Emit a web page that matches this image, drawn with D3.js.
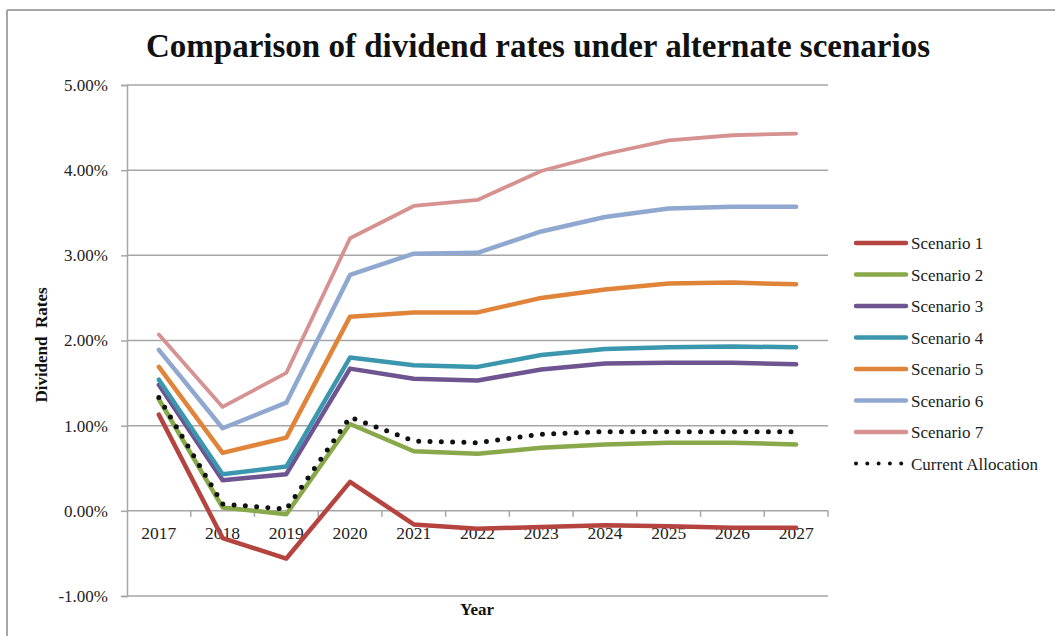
<!DOCTYPE html>
<html>
<head>
<meta charset="utf-8">
<script src="https://cdn.jsdelivr.net/npm/d3@7"></script>
<style>
  body { margin: 0; background: #fff; }
  text { font-family: "Liberation Serif", "Times New Roman", serif; }
</style>
</head>
<body>
<div id="chart"></div>
<script>
const years = ["2017", "2018", "2019", "2020", "2021", "2022", "2023", "2024", "2025", "2026", "2027"];
const yTicks = [-0.01, 0, 0.01, 0.02, 0.03, 0.04, 0.05];

const scenario1 = [1.13, -0.32, -0.56, 0.34, -0.16, -0.21, -0.19, -0.17, -0.18, -0.20, -0.20];
const scenario2 = [1.31, 0.04, -0.04, 1.02, 0.70, 0.67, 0.74, 0.78, 0.80, 0.80, 0.78];
const scenario3 = [1.48, 0.36, 0.43, 1.67, 1.55, 1.53, 1.66, 1.73, 1.74, 1.74, 1.72];
const scenario4 = [1.54, 0.43, 0.52, 1.80, 1.71, 1.69, 1.83, 1.90, 1.92, 1.93, 1.92];
const scenario5 = [1.69, 0.68, 0.86, 2.28, 2.33, 2.33, 2.50, 2.60, 2.67, 2.68, 2.66];
const scenario6 = [1.89, 0.97, 1.27, 2.77, 3.02, 3.03, 3.28, 3.45, 3.55, 3.57, 3.57];
const scenario7 = [2.07, 1.22, 1.62, 3.20, 3.58, 3.65, 3.99, 4.19, 4.35, 4.41, 4.43];
const currentAllocation = [1.33, 0.08, 0.02, 1.10, 0.82, 0.80, 0.90, 0.93, 0.93, 0.93, 0.93];

const seriesNames = ["Scenario 1", "Scenario 2", "Scenario 3", "Scenario 4", "Scenario 5", "Scenario 6", "Scenario 7", "Current Allocation"];
const seriesValues = [scenario1, scenario2, scenario3, scenario4, scenario5, scenario6, scenario7, currentAllocation];
const seriesColors = ["#b5433f", "#89a84a", "#6e5490", "#3b97ad", "#e0843a", "#90a8cf", "#d59291", "#111111"];

const width = 1055, height = 636;
const plot = { left: 127, right: 828, top: 85, bottom: 596 };

const series = seriesNames.map((name, i) => ({
    name: name,
    color: seriesColors[i],
    dotted: name === "Current Allocation",
    values: seriesValues[i].map((v, j) => ({ year: years[j], value: v / 100 }))
}));

// Excel style percent, plain hyphen for negatives
const pct = (d) => d3.format(".2%")(d).replace("\u2212", "-");

const svg = d3.select("#chart")
    .append("svg")
    .attr("width", width)
    .attr("height", height)

// outer frame (only top and left visible)
svg.append("line")
    .attr("x1", 7).attr("x2", width).attr("y1", 10).attr("y2", 10)
    .style("stroke", "#a6a6a6").style("stroke-width", 2)
svg.append("line")
    .attr("x1", 7).attr("x2", 7).attr("y1", 10).attr("y2", height)
    .style("stroke", "#a6a6a6").style("stroke-width", 2)

const x = d3.scaleBand()
    .domain(years)
    .range([plot.left, plot.right])

const y = d3.scaleLinear()
    .domain([-0.01, 0.05])
    .range([plot.bottom, plot.top])

//gridlines
svg.append("g")
    .selectAll("line")
    .data(yTicks)
    .enter().append("line")
    .attr("x1", plot.left)
    .attr("x2", plot.right)
    .attr("y1", d => y(d))
    .attr("y2", d => y(d))
    .style("stroke", "#a6a6a6")
    .style("stroke-width", 1.5)

//y axis
const yAxis = svg.append("g")
    .attr("transform", `translate(${plot.left},0)`)
    .call(d3.axisLeft(y).tickValues(yTicks).tickFormat(pct).tickSize(6).tickPadding(13))
yAxis.select(".domain").style("stroke", "#a6a6a6").style("stroke-width", 1.5)
yAxis.selectAll(".tick line").style("stroke", "#a6a6a6").style("stroke-width", 1.5)
yAxis.selectAll("text")
    .style("font-family", "Liberation Serif")
    .style("font-size", "17px")
    .style("fill", "#222")

//x axis at zero
const xAxis = svg.append("g")
    .attr("transform", `translate(0,${y(0)})`)
    .call(d3.axisBottom(x).tickSize(0).tickPadding(16))
xAxis.select(".domain").remove()
xAxis.selectAll("text")
    .style("font-family", "Liberation Serif")
    .style("font-size", "17.5px")
    .style("fill", "#222")

// category boundary ticks
svg.append("g")
    .selectAll("line")
    .data(years.slice(1).concat(["end"]))
    .enter().append("line")
    .attr("x1", (d, i) => x(years[0]) + x.step() * (i + 1))
    .attr("x2", (d, i) => x(years[0]) + x.step() * (i + 1))
    .attr("y1", y(0))
    .attr("y2", y(0) + 6)
    .style("stroke", "#a6a6a6")
    .style("stroke-width", 1.5)

//lines
const line = d3.line()
    .x(d => x(d.year) + x.bandwidth() / 2)
    .y(d => y(d.value))

svg.append("g")
    .selectAll("path")
    .data(series)
    .enter().append("path")
    .attr("d", d => line(d.values))
    .style("fill", "none")
    .style("stroke", d => d.color)
    .style("stroke-width", d => d.dotted ? 5 : (d.name === "Scenario 7" ? 3.8 : 4.5))
    .style("stroke-dasharray", d => d.dotted ? "0 11.3" : null)
    .style("stroke-linecap", "round")
    .style("stroke-linejoin", "round")

//legend
const legend = svg.append("g")
    .attr("transform", "translate(856,243)")

const legendItem = legend.selectAll("g")
    .data(series)
    .enter().append("g")
    .attr("transform", (d, i) => `translate(0,${i * 31.5})`)

legendItem.append("line")
    .attr("x1", 0).attr("x2", 50).attr("y1", 0).attr("y2", 0)
    .style("stroke", d => d.color)
    .style("stroke-width", d => d.dotted ? 4 : 4.5)
    .style("stroke-dasharray", d => d.dotted ? "0 11.3" : null)
    .style("stroke-linecap", "round")

legendItem.append("text")
    .attr("x", 55)
    .attr("y", 6)
    .text(d => d.name)
    .style("font-size", "17px")
    .style("fill", "#222")

//title
svg.append("text")
    .attr("x", 538)
    .attr("y", 57)
    .attr("text-anchor", "middle")
    .text("Comparison of dividend rates under alternate scenarios")
    .style("font-size", "33px")
    .style("font-weight", "bold")
    .style("fill", "#111")

//axis titles
svg.append("text")
    .attr("transform", "translate(47,345) rotate(-90)")
    .attr("text-anchor", "middle")
    .text("Dividend  Rates")
    .style("font-size", "17px")
    .style("font-weight", "bold")
    .style("white-space", "pre")
    .style("fill", "#111")

svg.append("text")
    .attr("x", 477)
    .attr("y", 615)
    .attr("text-anchor", "middle")
    .text("Year")
    .style("font-size", "17px")
    .style("font-weight", "bold")
    .style("fill", "#111")
</script>
</body>
</html>
